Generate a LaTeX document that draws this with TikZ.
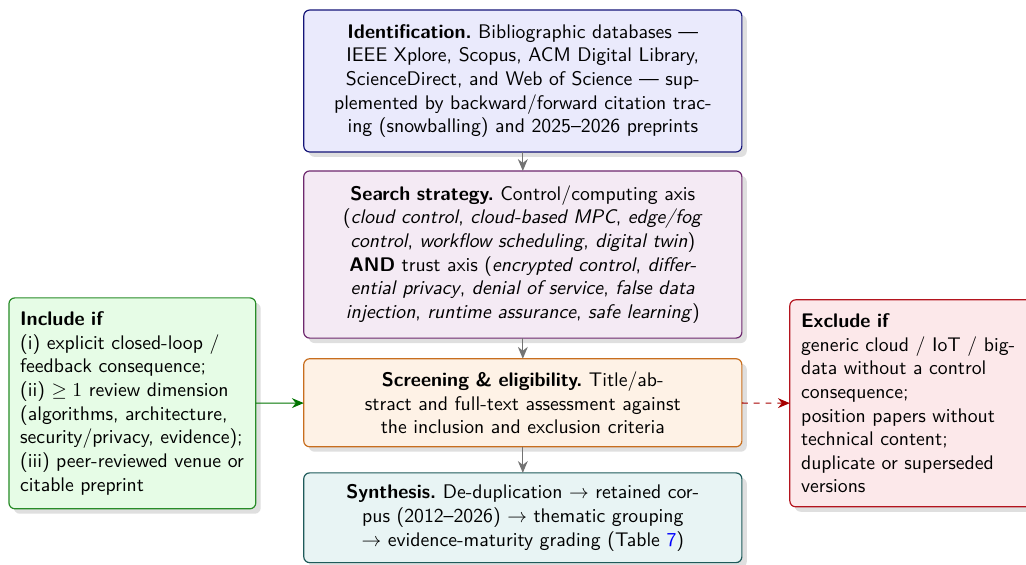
\documentclass[tikz,border=0pt]{standalone}
\usepackage{tikz}
\usetikzlibrary{shadows,arrows.meta}
\definecolor{identfill}{RGB}{234,234,252}
\definecolor{identline}{RGB}{20,20,120}
\definecolor{searchfill}{RGB}{244,234,244}
\definecolor{searchline}{RGB}{110,40,110}
\definecolor{screenfill}{RGB}{254,242,230}
\definecolor{screenline}{RGB}{200,110,30}
\definecolor{synthfill}{RGB}{232,244,244}
\definecolor{synthline}{RGB}{30,90,90}
\definecolor{inclfill}{RGB}{230,252,230}
\definecolor{inclline}{RGB}{40,140,40}
\definecolor{exclfill}{RGB}{252,232,234}
\definecolor{exclline}{RGB}{180,20,30}

\begin{document}
\begin{tikzpicture}[font=\sffamily,
  every node/.style={outer sep=0pt},
  box/.style={draw, semithick, rounded corners=3pt, inner sep=0pt,
    drop shadow={opacity=0.25, shadow xshift=2.5pt, shadow yshift=-2.5pt}},
  stage/.style={box, text width=7.81cm, align=center},
  crit/.style={box, text width=4.0cm, inner xsep=0.2cm, align=left},
  flow/.style={-{Stealth[length=6pt,width=5pt]}, semithick, black!55}]
\useasboundingbox (0,0) rectangle (18.29,-10.07);

\node[stage, fill=identfill, draw=identline, minimum height=2.53cm] (ident) at (9.32,-1.444)
  {\textbf{Identification.}\ Bibliographic databases ---\\
   IEEE Xplore, Scopus, ACM Digital Library,\\
   ScienceDirect, and Web of Science --- sup-\\
   plemented by backward/forward citation trac-\\
   ing (snowballing) and 2025--2026 preprints};
\node[stage, fill=searchfill, draw=searchline, minimum height=2.98cm] (search) at (9.32,-4.537)
  {\textbf{Search strategy.}\ Control/computing axis\\
   (\textit{cloud control}, \textit{cloud-based MPC}, \textit{edge/fog}\\
   \textit{control}, \textit{workflow scheduling}, \textit{digital twin})\\
   \textbf{AND} trust axis (\textit{encrypted control}, \textit{differ-}\\
   \textit{ential privacy}, \textit{denial of service}, \textit{false data}\\
   \textit{injection}, \textit{runtime assurance}, \textit{safe learning})};
\node[stage, fill=screenfill, draw=screenline, minimum height=1.57cm] (screen) at (9.32,-7.18)
  {\textbf{Screening \& eligibility.}\ Title/ab-\\
   stract and full-text assessment against\\
   the inclusion and exclusion criteria};
\node[stage, fill=synthfill, draw=synthline, minimum height=1.60cm] (synth) at (9.32,-9.23)
  {\textbf{Synthesis.}\ De-duplication $\rightarrow$ retained cor-\\
   pus (2012--2026) $\rightarrow$ thematic grouping\\
   $\rightarrow$ evidence-maturity grading (Table \textcolor{blue}{7})};

% criteria
\node[crit, fill=inclfill, draw=inclline, minimum height=3.76cm] (incl) at (2.36,-7.19)
  {\textbf{Include if}\\
   (i) explicit closed-loop /\\
   feedback consequence;\\
   (ii) $\geq 1$ review dimension\\
   (algorithms, architecture,\\
   security/privacy, evidence);\\
   (iii) peer-reviewed venue or\\
   citable preprint};
\node[crit, fill=exclfill, draw=exclline, minimum height=3.69cm, anchor=west] (excl) at (14.08,-7.19)
  {\textbf{Exclude if}\\
   generic cloud / IoT / big-\\
   data without a control\\
   consequence;\\
   position papers without\\
   technical content;\\
   duplicate or superseded\\
   versions};

\draw[flow] (ident) -- (search);
\draw[flow] (search) -- (screen);
\draw[flow] (screen) -- (synth);
\draw[flow, green!45!black] (incl) -- (screen);
\draw[flow, red!65!black, dashed] (screen) -- (excl);
\end{tikzpicture}
\end{document}
